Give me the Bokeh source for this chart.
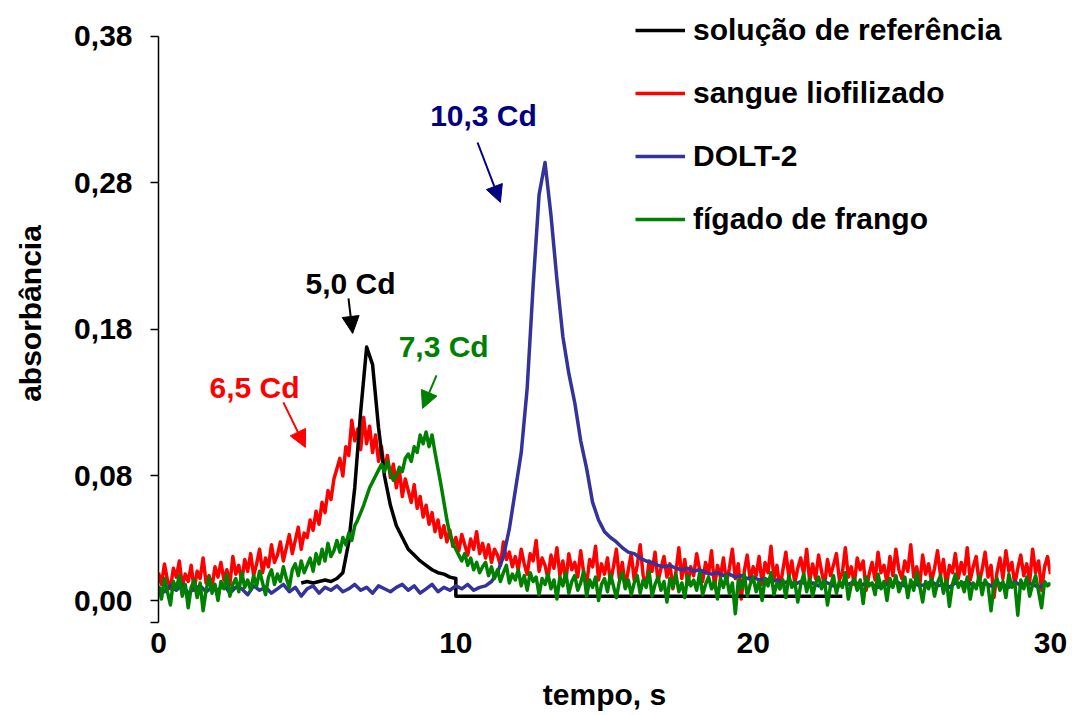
from bokeh.plotting import figure
from bokeh.models import Legend, LegendItem, FixedTicker, Label, Arrow, NormalHead
from bokeh.embed import file_html
from bokeh.resources import INLINE

# ---------------- data (absorbance in milli-units, time in s) ----------------
red_t = [round(i * 0.1, 1) for i in range(301)]
red_m = [
    14, 6, 20, 9, 3, 17, 11, 22, 5, 13,
    8, 19, 2, 15, 10, 24, 7, 12, 4, 18,
    11, 21, 9, 16, 6, 25, 13, 19, 8, 23,
    15, 27, 12, 20, 30, 14, 24, 18, 33, 21,
    26, 35, 22, 31, 40, 27, 36, 45, 30, 41,
    38, 50, 43, 56, 47, 62, 55, 70, 64, 78,
    85, 92, 80, 100, 94, 118, 104, 112, 98, 120,
    102, 114, 96, 108, 90, 100, 84, 94, 79, 88,
    72, 84, 66, 78, 70, 62, 74, 58, 66, 52,
    60, 47, 55, 42, 50, 38, 46, 35, 43, 32,
    38, 29, 40, 33, 26, 37, 30, 42, 27, 34,
    24, 33, 21, 30, 26, 19, 35, 23, 28, 18,
    25, 16, 30, 20, 13, 27, 22, 36, 15, 24,
    19, 10, 26, 17, 31, 12, 22, 8, 27, 16,
    21, 11, 29, 14, 6, 23, 18, 32, 9, 20,
    13, 24, 7, 18, 30, 10, 21, 4, 16, 27,
    9, 19, 33, 12, 5, 22, 15, 28, 8, 17,
    25, 11, 20, 3, 14, 31, 10, 23, 6, 18,
    12, 27, 16, 8, 21, 13, 29, 4, 19, 11,
    24, 7, 17, 30, 10, 20, -4, 15, 26, 9,
    18, 12, 25, 6, 21, 14, 32, 10, 19, 3,
    16, 28, 11, 22, 7, 17, 24, 13, 30, 8,
    20, 10, 26, 15, 5, 23, 12, 19, 27, 9,
    14, 31, 11, 18, 6, 24, 16, 22, 2, 13,
    21, 9, 28, 14, 19, 7, 25, 12, 30, 16,
    10, 22, 15, 33, 11, 18, 5, 26, 13, 20,
    8, 17, 29, 12, 23, 4, 19, 14, 27, 10,
    21, 13, 31, 9, 18, 25, 7, 16, 28, 11,
    19, -3, 14, 24, 10, 29, 15, 21, 6, 17,
    26, 12, 20, 8, 30, 14, 22, 2, 18, 25,
    13,
]

green_t = [round(i * 0.1, 1) for i in range(301)]
green_m = [
    5, -4, 10, 1, -8, 8, 3, 12, -2, 6,
    -10, 4, 9, -3, 7, -12, 2, 11, 0, 6,
    -5, 8, 3, 13, -2, 6, 10, 1, 14, 4,
    9, 2, 12, 5, 15, 7, -1, 11, 16, 6,
    13, 8, 18, 10, 4, 16, 20, 12, 22, 14,
    19, 24, 15, 27, 20, 30, 22, 34, 25, 29,
    36, 28, 38, 33, 41, 36, 46, 50, 55, 60,
    66, 72, 76, 80, 84, 88, 83, 90, 82, 77,
    80, 86, 83, 92, 95, 90, 100, 96, 108, 102,
    110, 100, 108, 96, 85, 74, 62, 50, 40, 34,
    30, 26, 22, 27, 19, 24, 16, 21, 14, 18,
    21, 12, 18, 10, 16, 8, 14, 19, 7, 13,
    9, 16, 5, 12, 2, 14, 8, 11, -1, 10,
    6, 13, 3, 9, -4, 11, 5, 14, 0, 8,
    12, 2, 7, 15, -2, 9, 4, 11, -5, 6,
    10, 1, 13, 5, -3, 8, 14, 3, 9, -1,
    7, 12, 0, 9, 4, 15, -2, 6, 11, 2,
    8, -6, 10, 4, 13, 1, 7, -3, 12, 5,
    9, 2, 14, -1, 6, 11, 3, 8, -4, 10,
    4, 12, 0, 7, -14, 9, 3, 13, -2, 6,
    11, 1, 8, -5, 10, 5, 14, -1, 7, 3,
    9, -3, 12, 4, 8, -6, 6, 13, 1, 10,
    -2, 7, 11, 3, 9, -8, 5, 12, 0, 8,
    4, 14, -4, 6, 10, 2, 9, -7, 11, 5,
    7, -1, 13, 3, 8, -5, 10, 4, 12, 1,
    6, 11, -3, 9, 2, 14, 5, -6, 8, 3,
    10, -2, 7, 12, 0, 9, -9, 6, 13, 4,
    8, 1, 11, -4, 7, 3, 12, -1, 9, 5,
    -12, 6, 10, 2, 8, -3, 13, 4, 7, -15,
    9, 3, 11, -2, 6, 12, 1, -10, 8, 5,
    7,
]

blue_t = [round(i * 0.2, 1) for i in range(151)]
blue_m = [
    4, 1, 5, 2, 6, 0, 3, 5, 1, 4,
    2, 6, 0, 4, 3, -1, 5, 2, 4, 0,
    3, 6, 1, 4, -2, 3, 5, 0, 4, 2,
    5, 1, 3, 6, 2, 4, 0, 5, 3, 1,
    4, 6, 2, 5, 0, 3, 6, 1, 4, 2,
    5, 3, 6, 2, 4, 5, 8, 14, 25, 44,
    70, 96, 140, 210, 272, 294, 258, 214, 175, 150,
    130, 104, 85, 62, 50, 42, 38, 35, 31, 28,
    27, 24, 22, 21, 19, 18, 19, 17, 16, 17,
    15, 16, 14, 13, 14, 12, 13, 11, 12, 10,
    11, 9, 10, 8, 9, 7, 8, 6, 8, 6,
    7, 5, 8, 6, 4, 7, 6, 8, 5, 7,
    6, 4, 7, 5, 8, 6, 4, 7, 5, 6,
    8, 5, 6, 4, 7, 6, 8, 5, 6, 7,
    5, 7, 6, 4, 8, 5, 7, 6, 4, 6,
    6,
]

black_t = [round(4.8 + i * 0.2, 1) for i in range(27)] + [10.0, 23.0]
black_m = [
    7,
    8, 7, 8, 9, 8,
    10, 14, 35, 72, 124, 168, 156, 113, 80, 60,
    46, 38, 30, 26, 22, 19, 16, 14, 13, 11,
    10,
    -2, -2,
]

series_names = ["solução de referência", "sangue liofilizado", "DOLT-2", "fígado de frango"]
series_colors = ["#000000", "#FF0000", "#333399", "#008000"]

y_ticks = [-0.02, -0.005, 0.08, 0.18, 0.28, 0.38]
y_tick_labels = ["", "0,00", "0,08", "0,18", "0,28", "0,38"]
x_ticks = [0, 10, 20, 30]

annot_text = ["5,0 Cd", "6,5 Cd", "7,3 Cd", "10,3 Cd"]
annot_colors = ["#000000", "#FF0000", "#008000", "#000080"]

# ---------------- figure ----------------
FONT = "Liberation Sans"
FS = "30px"

p = figure(width=1072, height=715, x_range=(0, 30), y_range=(-0.02, 0.4018),
           output_backend="svg", toolbar_location=None,
           min_border_left=158, min_border_right=22, min_border_top=4, min_border_bottom=93)
p.outline_line_color = None
p.xgrid.visible = False
p.ygrid.visible = False
p.background_fill_color = "white"
p.border_fill_color = "white"

def ms(v):
    return [a / 1000.0 for a in v]

r_red = p.line(red_t, ms(red_m), line_color=series_colors[1], line_width=3.5, line_join="round")
r_black = p.line(black_t, ms(black_m), line_color=series_colors[0], line_width=3.5, line_join="round")
r_blue = p.line(blue_t, ms(blue_m), line_color=series_colors[2], line_width=3.5, line_join="round")
r_green = p.line(green_t, ms(green_m), line_color=series_colors[3], line_width=3.5, line_join="round")

# axes
xa = p.xaxis[0]
xa.ticker = FixedTicker(ticks=x_ticks)
xa.axis_line_color = None
xa.major_tick_line_color = None
xa.minor_tick_line_color = None
xa.major_tick_out = 0
xa.major_tick_in = 0
xa.major_label_standoff = 10
xa.major_label_text_font = FONT
xa.major_label_text_font_style = "bold"
xa.major_label_text_font_size = FS
xa.major_label_text_color = "black"
xa.axis_label = "tempo, s"
xa.axis_label_text_font = FONT
xa.axis_label_text_font_style = "bold"
xa.axis_label_text_font_size = FS
xa.axis_label_text_color = "black"
xa.axis_label_standoff = 22

ya = p.yaxis[0]
ya.ticker = FixedTicker(ticks=y_ticks)
ya.bounds = (-0.02, 0.38)
ya.major_label_overrides = {t: l for t, l in zip(y_ticks, y_tick_labels)}
ya.axis_line_color = "black"
ya.axis_line_width = 1.5
ya.major_tick_line_color = "black"
ya.major_tick_line_width = 1.5
ya.major_tick_in = 0
ya.major_tick_out = 8
ya.minor_tick_line_color = None
ya.major_label_standoff = 18
ya.major_label_text_font = FONT
ya.major_label_text_font_style = "bold"
ya.major_label_text_font_size = FS
ya.major_label_text_color = "black"
ya.axis_label = "absorbância"
ya.axis_label_text_font = FONT
ya.axis_label_text_font_style = "bold"
ya.axis_label_text_font_size = FS
ya.axis_label_text_color = "black"
ya.axis_label_standoff = 24

# annotations with arrows
annot_pos = [(6.46, 0.2114), (3.23, 0.1404), (9.59, 0.1684), (10.93, 0.3261)]
arrow_pos = [((6.39, 0.2012), (6.53, 0.1773)),
             ((4.20, 0.1302), (4.94, 0.0995)),
             ((9.35, 0.1486), (8.88, 0.1261)),
             ((10.73, 0.3076), (11.50, 0.2667))]
for txt, col, (ax, ay), ((x0, y0), (x1, y1)) in zip(annot_text, annot_colors, annot_pos, arrow_pos):
    p.add_layout(Label(x=ax, y=ay, text=txt, text_color=col, text_font=FONT,
                       text_font_style="bold", text_font_size=FS,
                       text_align="center", text_baseline="middle"))
    p.add_layout(Arrow(x_start=x0, y_start=y0, x_end=x1, y_end=y1,
                       line_color=col, line_width=2,
                       end=NormalHead(size=17, fill_color=col, line_color=col)))

# legend
items = [LegendItem(label=series_names[0], renderers=[r_black]),
         LegendItem(label=series_names[1], renderers=[r_red]),
         LegendItem(label=series_names[2], renderers=[r_blue]),
         LegendItem(label=series_names[3], renderers=[r_green])]
legend = Legend(items=items, location=(477, 385), padding=0, margin=0,
                spacing=27, glyph_width=50, glyph_height=36, label_height=36,
                label_standoff=8, border_line_color=None, background_fill_alpha=0,
                label_text_font=FONT, label_text_font_style="bold",
                label_text_font_size=FS, label_text_color="black")
p.add_layout(legend, "center")

open("out.html", "w").write(file_html(p, INLINE))
